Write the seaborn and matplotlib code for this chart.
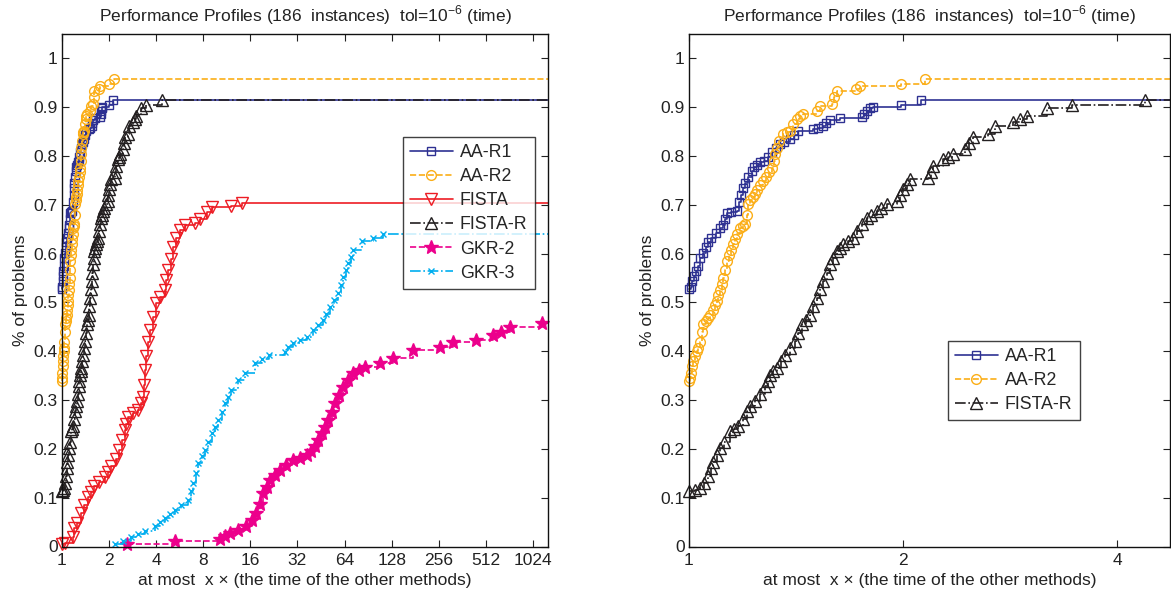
import numpy as np
import pandas as pd
import matplotlib
matplotlib.use("Agg")
import matplotlib.pyplot as plt
import seaborn as sns

# ---------------- data: (ratio, fraction) ----------------
aa_r1 = [(1.0, 0.527), (1.005, 0.532), (1.01, 0.543), (1.016, 0.554), (1.022, 0.565),
         (1.028, 0.575), (1.036, 0.592), (1.045, 0.602), (1.055, 0.613), (1.065, 0.624),
         (1.075, 0.633), (1.09, 0.643), (1.106, 0.653), (1.115, 0.659), (1.125, 0.67),
         (1.13, 0.684), (1.145, 0.686), (1.167, 0.687), (1.175, 0.705), (1.185, 0.72),
         (1.193, 0.735), (1.2, 0.745), (1.21, 0.758), (1.225, 0.77), (1.235, 0.778),
         (1.245, 0.782), (1.259, 0.787), (1.275, 0.79), (1.293, 0.797), (1.31, 0.808),
         (1.325, 0.817), (1.343, 0.824), (1.36, 0.829), (1.387, 0.834), (1.405, 0.844),
         (1.425, 0.852), (1.496, 0.855), (1.52, 0.858), (1.545, 0.862), (1.56, 0.868),
         (1.579, 0.873), (1.631, 0.878), (1.749, 0.88), (1.765, 0.887), (1.778, 0.893),
         (1.795, 0.898), (1.813, 0.901), (1.99, 0.905), (2.12, 0.914)]

aa_r2 = [(1.0, 0.339), (1.003, 0.345), (1.006, 0.355), (1.01, 0.37), (1.014, 0.38),
         (1.02, 0.39), (1.026, 0.4), (1.031, 0.407), (1.036, 0.42), (1.042, 0.44),
         (1.047, 0.455), (1.055, 0.462), (1.062, 0.469), (1.07, 0.475), (1.08, 0.485),
         (1.088, 0.495), (1.094, 0.503), (1.1, 0.515), (1.106, 0.526), (1.112, 0.537),
         (1.118, 0.55), (1.124, 0.567), (1.13, 0.585), (1.138, 0.597), (1.146, 0.608),
         (1.154, 0.619), (1.162, 0.63), (1.17, 0.641), (1.18, 0.653), (1.19, 0.657),
         (1.199, 0.66), (1.205, 0.68), (1.212, 0.701), (1.22, 0.71), (1.23, 0.716),
         (1.238, 0.722), (1.248, 0.731), (1.26, 0.74), (1.272, 0.749), (1.285, 0.758),
         (1.296, 0.767), (1.307, 0.776), (1.315, 0.79), (1.322, 0.805), (1.328, 0.817),
         (1.34, 0.83), (1.357, 0.845), (1.372, 0.849), (1.387, 0.852), (1.4, 0.866),
         (1.417, 0.876), (1.432, 0.881), (1.448, 0.886), (1.512, 0.893), (1.528, 0.903),
         (1.588, 0.906), (1.6, 0.92), (1.613, 0.934), (1.72, 0.937), (1.74, 0.944),
         (1.99, 0.947), (2.15, 0.957)]

fista = [(1.0, 0.005), (1.04, 0.008), (1.17, 0.02), (1.2, 0.037), (1.25, 0.048),
         (1.32, 0.068), (1.38, 0.085), (1.46, 0.102), (1.53, 0.112), (1.61, 0.123),
         (1.73, 0.132), (1.87, 0.143), (1.96, 0.153), (2.06, 0.164), (2.2, 0.18),
         (2.33, 0.198), (2.42, 0.218), (2.51, 0.239), (2.58, 0.252), (2.64, 0.266),
         (2.85, 0.274), (3.05, 0.28), (3.18, 0.294), (3.29, 0.307), (3.33, 0.33),
         (3.38, 0.362), (3.45, 0.39), (3.54, 0.418), (3.63, 0.444), (3.8, 0.47),
         (4.0, 0.498), (4.25, 0.512), (4.53, 0.526), (4.64, 0.547), (4.76, 0.567),
         (4.95, 0.59), (5.13, 0.614), (5.38, 0.632), (5.65, 0.648), (6.1, 0.659),
         (7.07, 0.662), (7.6, 0.672), (8.4, 0.686), (9.05, 0.696), (12.1, 0.698),
         (14.1, 0.704)]

fista_r = [(1.0, 0.113), (1.018, 0.116), (1.036, 0.12), (1.05, 0.13), (1.065, 0.144),
           (1.075, 0.16), (1.082, 0.174), (1.095, 0.188), (1.106, 0.202), (1.12, 0.215),
           (1.142, 0.236), (1.158, 0.24), (1.173, 0.246), (1.19, 0.262), (1.205, 0.277),
           (1.22, 0.287), (1.238, 0.298), (1.258, 0.313), (1.279, 0.328), (1.29, 0.34),
           (1.3, 0.352), (1.314, 0.359), (1.328, 0.366), (1.345, 0.38), (1.365, 0.393),
           (1.385, 0.407), (1.41, 0.421), (1.425, 0.438), (1.44, 0.455), (1.46, 0.465),
           (1.48, 0.475), (1.496, 0.492), (1.512, 0.51), (1.528, 0.527), (1.545, 0.544),
           (1.562, 0.561), (1.579, 0.578), (1.596, 0.592), (1.613, 0.605), (1.63, 0.612),
           (1.648, 0.619), (1.675, 0.626), (1.703, 0.633), (1.725, 0.647), (1.749, 0.66),
           (1.778, 0.674), (1.805, 0.68), (1.836, 0.687), (1.865, 0.694), (1.897, 0.701),
           (1.959, 0.708), (1.98, 0.72), (2.0, 0.732), (2.023, 0.742), (2.046, 0.752),
           (2.171, 0.756), (2.19, 0.768), (2.206, 0.78), (2.279, 0.793), (2.315, 0.799),
           (2.354, 0.804), (2.445, 0.814), (2.48, 0.826), (2.512, 0.838), (2.637, 0.845),
           (2.694, 0.862), (2.86, 0.869), (2.92, 0.876), (2.986, 0.882), (3.185, 0.898),
           (3.453, 0.905), (4.38, 0.914)]

gkr2 = [(2.59, 0.005), (5.28, 0.011), (10.2, 0.016), (11.0, 0.022), (11.85, 0.027),
        (13.3, 0.034), (15.1, 0.041), (16.3, 0.054), (17.5, 0.068), (18.4, 0.088),
        (19.4, 0.109), (20.3, 0.122), (21.3, 0.136), (23.0, 0.147), (24.7, 0.157),
        (27.2, 0.167), (30.1, 0.177), (33.2, 0.182), (36.6, 0.188), (39.0, 0.196),
        (41.4, 0.205), (43.5, 0.218), (45.6, 0.232), (47.9, 0.245), (50.3, 0.259),
        (52.9, 0.276), (55.6, 0.293), (59.0, 0.31), (62.8, 0.327), (67.5, 0.341),
        (72.8, 0.355), (79.0, 0.362), (86.4, 0.368), (107.7, 0.375), (131.0, 0.386),
        (176.0, 0.403), (260.0, 0.409), (317.0, 0.42), (446.0, 0.423), (571.0, 0.433),
        (640.0, 0.44), (729.0, 0.45), (1164.0, 0.457)]

gkr3 = [(2.17, 0.005), (2.45, 0.011), (2.77, 0.02), (3.05, 0.025), (3.37, 0.031),
        (3.92, 0.041), (4.2, 0.05), (4.53, 0.058), (4.9, 0.066), (5.27, 0.075),
        (5.8, 0.085), (6.41, 0.096), (6.65, 0.113), (6.9, 0.13), (7.15, 0.15),
        (7.42, 0.171), (7.8, 0.185), (8.19, 0.198), (8.6, 0.215), (9.05, 0.232),
        (9.5, 0.245), (9.98, 0.259), (10.5, 0.276), (11.0, 0.294), (11.5, 0.307),
        (12.1, 0.321), (13.4, 0.341), (14.8, 0.355), (17.1, 0.375), (19.0, 0.384),
        (20.9, 0.392), (26.7, 0.399), (28.0, 0.408), (30.1, 0.416), (33.3, 0.423),
        (36.6, 0.43), (40.4, 0.444), (43.5, 0.454), (46.8, 0.464), (49.0, 0.477),
        (51.6, 0.491), (55.0, 0.505), (58.3, 0.519), (60.5, 0.536), (62.8, 0.553),
        (65.0, 0.566), (67.6, 0.58), (70.0, 0.594), (72.8, 0.608), (82.3, 0.625),
        (97.6, 0.632), (113.0, 0.64)]

left_ticks = [1, 2, 4, 8, 16, 32, 64, 128, 256, 512, 1024]
right_ticks = [1, 2, 4]
y_ticks = [0, 0.1, 0.2, 0.3, 0.4, 0.5, 0.6, 0.7, 0.8, 0.9, 1]

title_text = "Performance Profiles (186  instances)  tol=10$^{\\mathregular{-6}}$ (time)"
xlabel_text = "at most  x \u00d7 (the time of the other methods)"
ylabel_text = "% of problems"

# ---------------- styles ----------------
styles = {
    "AA-R1":   dict(color="#2E3192", ls="-",  marker="s", ms=5.5, mfc="none"),
    "AA-R2":   dict(color="#FBAE17", ls="--", marker="o", ms=7,   mfc="none"),
    "FISTA":   dict(color="#ED1C24", ls="-",  marker="v", ms=8,   mfc="none"),
    "FISTA-R": dict(color="#231F20", ls="-.", marker="^", ms=8,   mfc="none"),
    "GKR-2":   dict(color="#EC008C", ls="--", marker="*", ms=10,  mfc="#EC008C"),
    "GKR-3":   dict(color="#00AEEF", ls="-.", marker="x", ms=5,   mfc="none"),
}

series = {"AA-R1": aa_r1, "AA-R2": aa_r2, "FISTA": fista,
          "FISTA-R": fista_r, "GKR-2": gkr2, "GKR-3": gkr3}

sns.set_style("ticks")
plt.rcParams["font.family"] = ["Liberation Sans", "DejaVu Sans"]
plt.rcParams["mathtext.fontset"] = "custom"
plt.rcParams["mathtext.rm"] = "Liberation Sans"

W, H = 1171, 594
fig = plt.figure(figsize=(W / 100, H / 100), dpi=100)
fig.patch.set_facecolor("white")

axL = fig.add_axes([62 / W, (H - 546.5) / H, (548 - 62) / W, (546.5 - 34) / H])
axR = fig.add_axes([689 / W, (H - 546.5) / H, (1170 - 689) / W, (546.5 - 34) / H])


def draw(ax, names, xmax):
    for name in names:
        pts = series[name]
        st = styles[name]
        xs = [p[0] for p in pts] + [xmax]
        ys = [p[1] for p in pts] + [pts[-1][1]]
        df = pd.DataFrame({"x": xs, "y": ys})
        n = len(pts)
        sns.lineplot(data=df, x="x", y="y", ax=ax, sort=False, estimator=None,
                     color=st["color"], linestyle=st["ls"], linewidth=1.2,
                     marker=st["marker"], markersize=st["ms"],
                     markerfacecolor=st["mfc"], markeredgecolor=st["color"],
                     markeredgewidth=1.0, drawstyle="steps-post",
                     markevery=list(range(n)), label=name, clip_on=False)


xmaxL = 2 ** 10.32
xmaxR = 2 ** (481 / 214)
draw(axL, ["AA-R1", "AA-R2", "FISTA", "FISTA-R", "GKR-2", "GKR-3"], xmaxL)
draw(axR, ["AA-R1", "AA-R2", "FISTA-R"], xmaxR)

FS = 12.5
for ax, ticks, xmax in [(axL, left_ticks, xmaxL), (axR, right_ticks, xmaxR)]:
    ax.set_xscale("log", base=2)
    ax.set_xlim(1, xmax)
    ax.set_ylim(0, 1.05)
    ax.set_xticks(ticks)
    ax.set_xticklabels([str(t) for t in ticks])
    ax.minorticks_off()
    ax.set_yticks(y_ticks)
    ax.set_yticklabels(["0" if t == 0 else ("1" if t == 1 else f"{t:.1f}") for t in y_ticks])
    ax.tick_params(axis="both", which="both", direction="in", length=5, width=0.8,
                   top=True, right=True, labelsize=FS, colors="#222222",
                   labelcolor="#222222", pad=3)
    ax.tick_params(axis="x", pad=5)
    for sp in ax.spines.values():
        sp.set_visible(True)
        sp.set_linewidth(1.0)
        sp.set_color("#111111")
    ax.set_title(title_text, fontsize=12.5, color="#222222", pad=9)
    ax.set_xlabel(xlabel_text, fontsize=FS, color="#222222", labelpad=3)
    ax.set_ylabel(ylabel_text, fontsize=FS, color="#222222", labelpad=4)

leg_kw = dict(loc="upper left", fontsize=12.8, handlelength=2.4, frameon=True,
              fancybox=False, edgecolor="#111111", borderpad=0.4, labelspacing=0.4,
              handletextpad=0.4, borderaxespad=0)
legL = axL.legend(bbox_to_anchor=((403 - 62) / 486, 1 - (137 - 34) / 512.5), **leg_kw)
legL.get_frame().set_linewidth(1.0)
legR = axR.legend(bbox_to_anchor=((948 - 689) / 481, 1 - (341 - 34) / 512.5), **leg_kw)
legR.get_frame().set_linewidth(1.0)

fig.savefig("out.png", dpi=100, facecolor="white")
